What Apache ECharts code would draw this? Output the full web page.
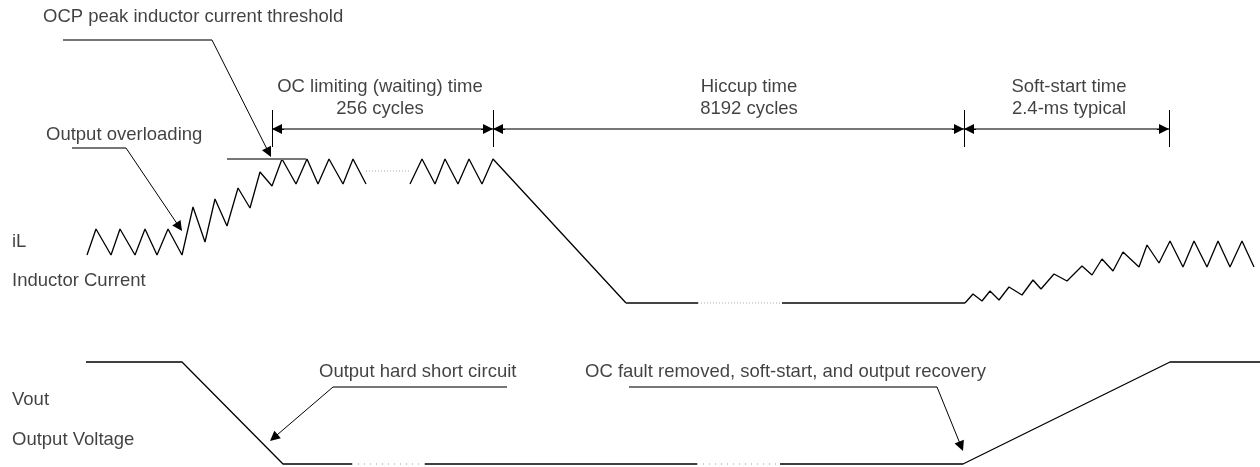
<!DOCTYPE html>
<html>
<head>
<meta charset="utf-8">
<title>OCP hiccup timing</title>
<script src="https://cdn.jsdelivr.net/npm/echarts@6.0.0/dist/echarts.min.js"></script>
<style>
  html, body { margin: 0; padding: 0; background: #fff; }
  #chart { width: 1260px; height: 467px; }
</style>
</head>
<body>
<div id="chart"></div>
<script>
// waveform points, x = time (diagram units), y = level (diagram units, top = 0)
const ilOverload = [[87, 255], [96, 229], [111, 255], [120, 229], [135, 255], [145, 229], [157, 255], [168, 229], [182, 255],
  [193, 207], [205, 242], [215, 199], [227, 226], [238, 188], [250, 208], [260, 172], [272, 186], [282, 159],
  [296, 184], [307, 159], [318, 184], [329, 159], [343, 184], [353, 159], [366, 184]]
const ilLimit = [[410, 184], [422, 159], [435, 184], [445, 159], [458, 184], [469, 159], [482, 184], [493, 159], [626, 303]]
const ilOffA = [[626, 303], [698, 303]]
const ilOffB = [[782, 303], [965, 303]]
const ilSoftStart = [[965, 303], [973, 294], [982, 301], [990, 291], [999, 300], [1009, 287], [1022, 295], [1033, 280],
  [1041, 289], [1054, 274], [1067, 281], [1082, 266], [1092, 275], [1102, 259], [1113, 271], [1123, 252], [1139, 267],
  [1147, 245], [1159, 263], [1170, 241], [1183, 267], [1194, 241], [1207, 267], [1218, 241], [1230, 267], [1242, 241], [1254, 267]]
const ilGapA = [[366, 171], [410, 171]]
const ilGapB = [[698, 303], [782, 303]]

const voutFall = [[86, 362], [182, 362], [283, 464], [352, 464]]
const voutLow = [[425, 464], [697, 464]]
const voutRise = [[780, 464], [963, 464], [1170, 362], [1260, 362]]
const voutGapA = [[352, 464], [425, 464]]
const voutGapB = [[697, 464], [780, 464]]

const ocpLevel = [[227, 159], [306, 159]]

// timing spans (start, end) drawn at the dimension row
const spanEdges = [272, 493, 964, 1169]
const spanRow = 129
const spanTick = [110, 147]

// leader lines: [elbow start, elbow, arrow tip]
const leaders = [
  [[63, 40], [212, 40], [271, 157]],
  [[72, 148], [126, 148], [182, 231]],
  [[507, 387], [333, 387], [270, 441]],
  [[629, 387], [937, 387], [963, 451]]
]

const labels = [
  { text: 'OCP peak inductor current threshold', x: 43, y: 17, align: 'left' },
  { text: 'OC limiting (waiting) time', x: 380, y: 87, align: 'center' },
  { text: '256 cycles', x: 380, y: 109, align: 'center' },
  { text: 'Hiccup time', x: 749, y: 87, align: 'center' },
  { text: '8192 cycles', x: 749, y: 109, align: 'center' },
  { text: 'Soft-start time', x: 1069, y: 87, align: 'center' },
  { text: '2.4-ms typical', x: 1069, y: 109, align: 'center' },
  { text: 'Output overloading', x: 46, y: 135, align: 'left' },
  { text: 'iL', x: 12, y: 242, align: 'left' },
  { text: 'Inductor Current', x: 12, y: 281, align: 'left' },
  { text: 'Vout', x: 12, y: 400, align: 'left' },
  { text: 'Output Voltage', x: 12, y: 440, align: 'left' },
  { text: 'Output hard short circuit', x: 319, y: 372, align: 'left' },
  { text: 'OC fault removed, soft-start, and output recovery', x: 585, y: 372, align: 'left' }
]

const FONT = 'Liberation Sans, Arial, sans-serif'
const GREY = '#777'
const HEAD = 10

function wave(name, data, color, width, type) {
  return {
    name: name,
    type: 'line',
    data: data,
    symbol: 'none',
    silent: true,
    lineStyle: { color: color, width: width, type: type || 'solid' }
  }
}

function seg(a, b, color, width) {
  return [
    { coord: a, symbol: 'none', lineStyle: { color: color, width: width, type: 'solid' } },
    { coord: b, symbol: 'none' }
  ]
}

// black line ending in a filled head whose tip sits on `tip`
function arrow(from, tip) {
  let dx = tip[0] - from[0]
  let dy = tip[1] - from[1]
  let len = Math.sqrt(dx * dx + dy * dy)
  let end = [tip[0] - dx / len * HEAD / 2, tip[1] - dy / len * HEAD / 2]
  return [
    { coord: from, symbol: 'none', lineStyle: { color: '#000', width: 1, type: 'solid' }, itemStyle: { color: '#000' } },
    { coord: end, symbol: 'triangle', symbolSize: HEAD, itemStyle: { color: '#000' } }
  ]
}

let marks = []
leaders.forEach(l => {
  marks.push(seg(l[0], l[1], GREY, 2))
  marks.push(arrow(l[1], l[2]))
})
for (let i = 0; i < spanEdges.length - 1; i++) {
  let a = spanEdges[i]
  let b = spanEdges[i + 1]
  marks.push(seg([a, spanRow], [b, spanRow], GREY, 2))
  marks.push(arrow([a + HEAD + 2, spanRow], [a, spanRow]))
  marks.push(arrow([b - HEAD - 2, spanRow], [b, spanRow]))
}
spanEdges.forEach(x => {
  marks.push(seg([x, spanTick[0]], [x, spanTick[1]], '#000', 1))
})

let chart = echarts.init(document.getElementById('chart'))
chart.setOption({
  animation: false,
  backgroundColor: '#fff',
  grid: { left: 0, right: 0, top: 0, bottom: 0 },
  xAxis: { type: 'value', min: 0, max: 1260, show: false },
  yAxis: { type: 'value', min: 0, max: 467, inverse: true, show: false },
  series: [
    wave('iL overload', ilOverload, '#000', 1.3),
    wave('iL limit', ilLimit, '#000', 1.3),
    wave('iL off a', ilOffA, '#444', 2),
    wave('iL off b', ilOffB, '#444', 2),
    wave('iL soft-start', ilSoftStart, '#000', 1.3),
    wave('iL gap a', ilGapA, '#aaa', 1, [1, 2]),
    wave('iL gap b', ilGapB, '#aaa', 1, [1, 2]),
    wave('Vout fall', voutFall, '#000', 1.3),
    wave('Vout low', voutLow, '#000', 1.5),
    wave('Vout rise', voutRise, '#000', 1.3),
    wave('Vout gap a', voutGapA, '#999', 1, [1, 5]),
    wave('Vout gap b', voutGapB, '#999', 1, [1, 5]),
    wave('OCP level', ocpLevel, GREY, 2),
    {
      name: 'annotations',
      type: 'line',
      data: [],
      silent: true,
      markLine: {
        silent: true,
        animation: false,
        symbolSize: HEAD,
        label: { show: false },
        emphasis: { disabled: true },
        data: marks
      }
    },
    {
      name: 'labels',
      type: 'scatter',
      silent: true,
      symbolSize: 1,
      itemStyle: { color: 'rgba(0,0,0,0)' },
      data: labels.map(l => ({
        value: [l.x, l.y],
        label: {
          show: true,
          position: 'inside',
          formatter: l.text,
          align: l.align,
          verticalAlign: 'middle',
          color: '#111',
          fontFamily: FONT,
          fontSize: 18.5
        }
      }))
    }
  ]
})
</script>
</body>
</html>
